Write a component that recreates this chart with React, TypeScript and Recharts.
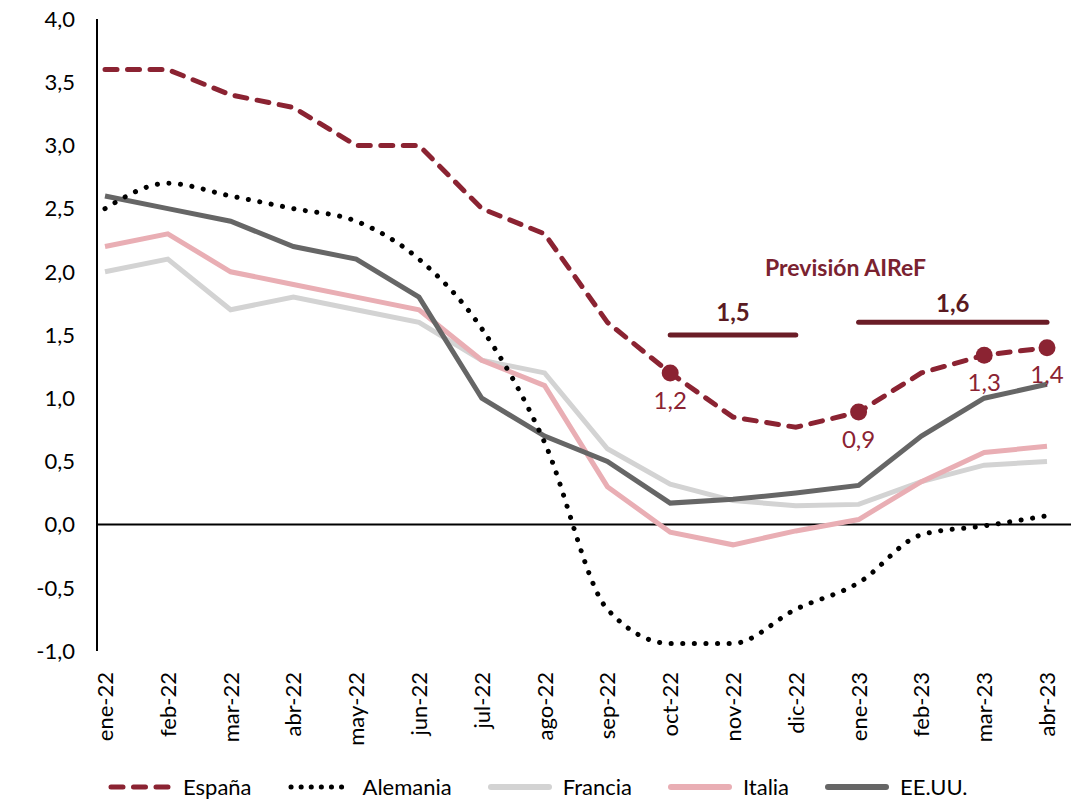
import {
  ComposedChart,
  Line,
  XAxis,
  YAxis,
  ReferenceLine,
  ReferenceDot,
  Label,
  LabelList,
  Legend,
} from "recharts";

const meses = [
  "ene-22", "feb-22", "mar-22", "abr-22", "may-22", "jun-22", "jul-22", "ago-22",
  "sep-22", "oct-22", "nov-22", "dic-22", "ene-23", "feb-23", "mar-23", "abr-23",
];

const espana = [3.6, 3.6, 3.4, 3.3, 3.0, 3.0, 2.5, 2.3, 1.6, 1.2, 0.85, 0.77, 0.89, 1.2, 1.34, 1.4];
const alemania = [2.5, 2.7, 2.6, 2.5, 2.4, 2.1, 1.55, 0.65, -0.67, -0.94, -0.94, -0.67, -0.46, -0.08, -0.01, 0.07];
const francia = [2.0, 2.1, 1.7, 1.8, 1.7, 1.6, 1.3, 1.2, 0.6, 0.32, 0.19, 0.15, 0.16, 0.34, 0.47, 0.5];
const italia = [2.2, 2.3, 2.0, 1.9, 1.8, 1.7, 1.3, 1.1, 0.3, -0.06, -0.16, -0.05, 0.04, 0.34, 0.57, 0.62];
const eeuu = [2.6, 2.5, 2.4, 2.2, 2.1, 1.8, 1.0, 0.7, 0.5, 0.17, 0.2, 0.25, 0.31, 0.7, 1.0, 1.11];

// meses de España con punto y etiqueta
const destacados = ["oct-22", "ene-23", "mar-23", "abr-23"];

// previsiones AIReF
const prevision2022 = { desde: "oct-22", hasta: "dic-22", valor: 1.5 };
const prevision2023 = { desde: "ene-23", hasta: "abr-23", valor: 1.6 };

const yTicks = [-1, -0.5, 0, 0.5, 1, 1.5, 2, 2.5, 3, 3.5, 4];

const ROJO = "#8B2332";
const GRANATE = "#6B1D27";
const FONT = "Lato, 'Open Sans', sans-serif";

const data = meses.map((mes, i) => ({
  mes,
  espana: espana[i],
  alemania: alemania[i],
  francia: francia[i],
  italia: italia[i],
  eeuu: eeuu[i],
  destacado: destacados.includes(mes) ? espana[i] : null,
}));

const fmt = (v: number) => v.toFixed(1).replace(".", ",");

const leyenda = [
  { nombre: "España", color: ROJO, dash: "12 10.5", width: 5 },
  { nombre: "Alemania", color: "#000", dash: "0.1 10", width: 5 },
  { nombre: "Francia", color: "#D3D3D3", dash: undefined, width: 6 },
  { nombre: "Italia", color: "#E9AEB4", dash: undefined, width: 6 },
  { nombre: "EE.UU.", color: "#666666", dash: undefined, width: 6 },
];

function XTick(props: any) {
  const { x, y, payload } = props;
  return (
    <g transform={`translate(${x},${y})`}>
      <text
        transform="rotate(-90)"
        x={-13}
        dy="0.36em"
        textAnchor="end"
        fontSize={22}
        fontFamily={FONT}
        fill="#000"
      >
        {payload.value}
      </text>
    </g>
  );
}

function PuntoDot(props: any) {
  const { cx, cy, payload, index } = props;
  if (payload == null || payload.destacado == null || cy == null) {
    return <g key={`d-${index}`} />;
  }
  return <circle key={`d-${index}`} cx={cx} cy={cy} r={8.5} fill={ROJO} />;
}

function PuntoLabel(props: any) {
  const { x, y, value } = props;
  if (value == null || y == null) return null;
  return (
    <text
      x={x}
      y={y + 27}
      dy="0.36em"
      textAnchor="middle"
      fontSize={24}
      fontFamily={FONT}
      fill={ROJO}
    >
      {fmt(value)}
    </text>
  );
}

function Leyenda() {
  return (
    <div
      style={{
        display: "flex",
        alignItems: "center",
        height: 39,
        paddingTop: 12,
        paddingLeft: 108,
        boxSizing: "border-box",
        fontFamily: FONT,
        fontSize: 22,
        color: "#000",
      }}
    >
      {leyenda.map((it) => (
        <div key={it.nombre} style={{ display: "flex", alignItems: "center", marginRight: 36 }}>
          <svg width={64} height={12} style={{ marginRight: 11 }}>
            <line
              x1={3}
              y1={6}
              x2={61}
              y2={6}
              stroke={it.color}
              strokeWidth={it.width}
              strokeDasharray={it.dash}
              strokeLinecap="round"
            />
          </svg>
          <span>{it.nombre}</span>
        </div>
      ))}
    </div>
  );
}

export default function App() {
  return (
    <div style={{ position: "absolute", left: 0, top: 0, background: "#fff" }}>
      <ComposedChart
        width={1071}
        height={800}
        data={data}
        margin={{ top: 19, right: 0, left: 0, bottom: 0 }}
      >
        <XAxis
          dataKey="mes"
          type="category"
          interval={0}
          axisLine={false}
          tickLine={false}
          height={110}
          padding={{ left: 8, right: 24 }}
          tick={<XTick />}
        />
        <YAxis
          domain={[-1, 4]}
          ticks={yTicks}
          width={97}
          tickFormatter={fmt}
          tickLine={false}
          tickMargin={16}
          axisLine={{ stroke: "#000", strokeWidth: 2 }}
          tick={{ fontSize: 22, fill: "#000", fontFamily: FONT }}
        />
        <ReferenceLine y={0} stroke="#000" strokeWidth={2} />

        <Line
          dataKey="francia"
          stroke="#D3D3D3"
          strokeWidth={5}
          dot={false}
          type="linear"
          isAnimationActive={false}
        />
        <Line
          dataKey="italia"
          stroke="#E9AEB4"
          strokeWidth={5}
          dot={false}
          type="linear"
          isAnimationActive={false}
        />
        <Line
          dataKey="eeuu"
          stroke="#666666"
          strokeWidth={5}
          dot={false}
          type="linear"
          isAnimationActive={false}
        />
        <Line
          dataKey="alemania"
          stroke="#000"
          strokeWidth={5}
          strokeDasharray="0.1 11.5"
          strokeLinecap="round"
          dot={false}
          type="monotone"
          isAnimationActive={false}
        />
        <Line
          dataKey="espana"
          stroke={ROJO}
          strokeWidth={5}
          strokeDasharray="12 10.5"
          strokeLinecap="round"
          dot={false}
          type="linear"
          isAnimationActive={false}
        />
        <Line
          dataKey="destacado"
          stroke="none"
          dot={<PuntoDot />}
          activeDot={false}
          isAnimationActive={false}
          legendType="none"
        >
          <LabelList dataKey="destacado" content={<PuntoLabel />} />
        </Line>

        <ReferenceLine
          segment={[
            { x: prevision2022.desde, y: prevision2022.valor },
            { x: prevision2022.hasta, y: prevision2022.valor },
          ]}
          stroke={GRANATE}
          strokeWidth={5}
          strokeLinecap="round"
        >
          <Label
            value={fmt(prevision2022.valor)}
            position="top"
            offset={14}
            fontSize={24}
            fontWeight="bold"
            fontFamily={FONT}
            fill="#5A1A22"
          />
        </ReferenceLine>
        <ReferenceLine
          segment={[
            { x: prevision2023.desde, y: prevision2023.valor },
            { x: prevision2023.hasta, y: prevision2023.valor },
          ]}
          stroke={GRANATE}
          strokeWidth={5}
          strokeLinecap="round"
        >
          <Label
            value={fmt(prevision2023.valor)}
            position="top"
            offset={10}
            fontSize={24}
            fontWeight="bold"
            fontFamily={FONT}
            fill="#5A1A22"
          />
        </ReferenceLine>
        <ReferenceDot x="ene-23" y={2.03} r={0} stroke="none" fill="none">
          <Label
            value="Previsión AIReF"
            position="center"
            dx={-13}
            fontSize={23}
            fontWeight="bold"
            fontFamily={FONT}
            fill="#7A2230"
          />
        </ReferenceDot>

        <Legend verticalAlign="bottom" content={<Leyenda />} />
      </ComposedChart>
    </div>
  );
}
